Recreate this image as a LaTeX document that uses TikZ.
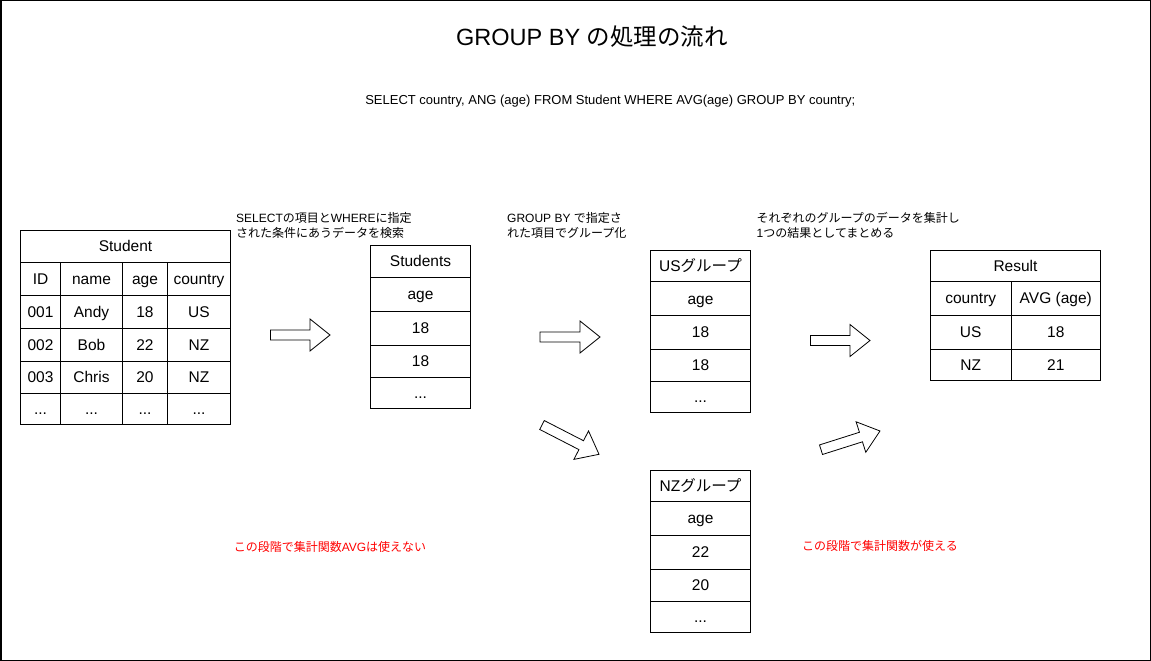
\documentclass[tikz,border=0pt]{standalone}
\usepackage{fontspec}
\setmainfont{Liberation Sans}
\newfontfamily\jp{Noto Sans CJK JP}
\usetikzlibrary{calc}
\definecolor{notered}{RGB}{255,0,0}
\tikzset{
  cell/.style={draw, line width=1pt, inner sep=0pt, font=\fontsize{15.5}{18}\selectfont, text height=11.1pt, text depth=0pt},
  blockarrow/.style={draw, fill=white, line width=0.8pt, line join=miter},
  lbl/.style={anchor=west, inner sep=0pt, align=left, font=\fontsize{12}{15}\selectfont},
  note/.style={inner sep=0pt, text=notered, font=\fontsize{12}{15}\selectfont},
}
\newcommand\tcell[6]{%
  \pgfmathsetmacro\tcx{(#2+#4)/2}\pgfmathsetmacro\tcy{(#3+#5)/2}%
  \pgfmathsetmacro\tcw{#4-#2}\pgfmathsetmacro\tch{#5-#3}%
  \node[cell, minimum width=\tcw pt, minimum height=\tch pt] (#1) at (\tcx,\tcy) {#6};}
\newcommand\fatarrow[2]{%
  \coordinate (#1-hb) at ($(#2)!20pt!(#1)$);
  \draw[blockarrow] ($(#1)!5pt!90:(#2)$) -- ($(#1-hb)!5pt!90:(#2)$) -- ($(#1-hb)!16pt!90:(#2)$) -- (#2)
    -- ($(#1-hb)!16pt!-90:(#2)$) -- ($(#1-hb)!5pt!-90:(#2)$) -- ($(#1)!5pt!-90:(#2)$) -- cycle;}
\begin{document}
\begin{tikzpicture}[x=1pt,y=-1pt]
\useasboundingbox (0,0) rectangle (1151,661);
\draw[line width=1.5pt] (0.75,0.75) rectangle (1150.25,660.25);

% title and query
\node[inner sep=0pt, font=\fontsize{23.5}{27}\selectfont] (title) at (592,37) {GROUP BY {\jp の処理の流れ}};
\node[inner sep=0pt, font=\fontsize{13}{16}\selectfont] (sql) at (610.3,101) {SELECT country, ANG (age) FROM Student WHERE AVG(age) GROUP BY country;};

% Student table
\tcell{st0}{20.5}{230.5}{230.5}{262}{Student}
\tcell{st11}{20.5}{262}{60.5}{295}{ID}
\tcell{st12}{60.5}{262}{122.5}{295}{name}
\tcell{st13}{122.5}{262}{167.5}{295}{age}
\tcell{st14}{167.5}{262}{230.5}{295}{country}
\tcell{st21}{20.5}{295}{60.5}{328}{001}
\tcell{st22}{60.5}{295}{122.5}{328}{Andy}
\tcell{st23}{122.5}{295}{167.5}{328}{18}
\tcell{st24}{167.5}{295}{230.5}{328}{US}
\tcell{st31}{20.5}{328}{60.5}{361}{002}
\tcell{st32}{60.5}{328}{122.5}{361}{Bob}
\tcell{st33}{122.5}{328}{167.5}{361}{22}
\tcell{st34}{167.5}{328}{230.5}{361}{NZ}
\tcell{st41}{20.5}{361}{60.5}{393.5}{003}
\tcell{st42}{60.5}{361}{122.5}{393.5}{Chris}
\tcell{st43}{122.5}{361}{167.5}{393.5}{20}
\tcell{st44}{167.5}{361}{230.5}{393.5}{NZ}
\tcell{st51}{20.5}{393.5}{60.5}{424}{...}
\tcell{st52}{60.5}{393.5}{122.5}{424}{...}
\tcell{st53}{122.5}{393.5}{167.5}{424}{...}
\tcell{st54}{167.5}{393.5}{230.5}{424}{...}

% Students table
\tcell{ss0}{370.5}{245}{470.5}{277.5}{Students}
\tcell{ss1}{370.5}{277.5}{470.5}{311}{age}
\tcell{ss2}{370.5}{311}{470.5}{345}{18}
\tcell{ss3}{370.5}{345}{470.5}{377}{18}
\tcell{ss4}{370.5}{377}{470.5}{408.5}{...}

% US group
\tcell{us0}{650.5}{250}{750.5}{281.5}{US{\jp グループ}}
\tcell{us1}{650.5}{281.5}{750.5}{315.5}{age}
\tcell{us2}{650.5}{315.5}{750.5}{349}{18}
\tcell{us3}{650.5}{349}{750.5}{381}{18}
\tcell{us4}{650.5}{381}{750.5}{412.5}{...}

% NZ group
\tcell{nz0}{650.5}{470}{750.5}{501}{NZ{\jp グループ}}
\tcell{nz1}{650.5}{501}{750.5}{535.5}{age}
\tcell{nz2}{650.5}{535.5}{750.5}{569}{22}
\tcell{nz3}{650.5}{569}{750.5}{601}{20}
\tcell{nz4}{650.5}{601}{750.5}{632.5}{...}

% Result table
\tcell{rs0}{930.5}{250.5}{1100.5}{281}{Result}
\tcell{rs11}{930.5}{281}{1011}{315}{country}
\tcell{rs12}{1011}{281}{1100.5}{315}{AVG (age)}
\tcell{rs21}{930.5}{315}{1011}{349.5}{US}
\tcell{rs22}{1011}{315}{1100.5}{349.5}{18}
\tcell{rs31}{930.5}{349.5}{1011}{380.5}{NZ}
\tcell{rs32}{1011}{349.5}{1100.5}{380.5}{21}

% block arrows
\coordinate (a1t) at (270.5,335);   \coordinate (a1p) at (330,335);
\coordinate (a2t) at (540,337);     \coordinate (a2p) at (600,337);
\coordinate (a3t) at (810.5,340.5); \coordinate (a3p) at (870,340.5);
\coordinate (a4t) at (542,425);     \coordinate (a4p) at (599,454.3);
\coordinate (a5t) at (821,449.7);   \coordinate (a5p) at (880,431);
\fatarrow{a1t}{a1p}
\fatarrow{a2t}{a2p}
\fatarrow{a3t}{a3p}
\fatarrow{a4t}{a4p}
\fatarrow{a5t}{a5p}

% step labels
\node[lbl] (l1) at (236,225.5) {SELECT{\jp の項目と}WHERE{\jp に指定}\\{\jp された条件にあうデータを検索}};
\node[lbl] (l2) at (507,225.5) {GROUP BY {\jp で指定さ}\\{\jp れた項目でグループ化}};
\node[lbl] (l3) at (756.5,225.5) {{\jp それぞれのグループのデータを集計し}\\1{\jp つの結果としてまとめる}};

% notes
\node[note] (n1) at (330,547) {{\jp この段階で集計関数}AVG{\jp は使えない}};
\node[note] (n2) at (880,546) {{\jp この段階で集計関数が使える}};
\end{tikzpicture}
\end{document}
